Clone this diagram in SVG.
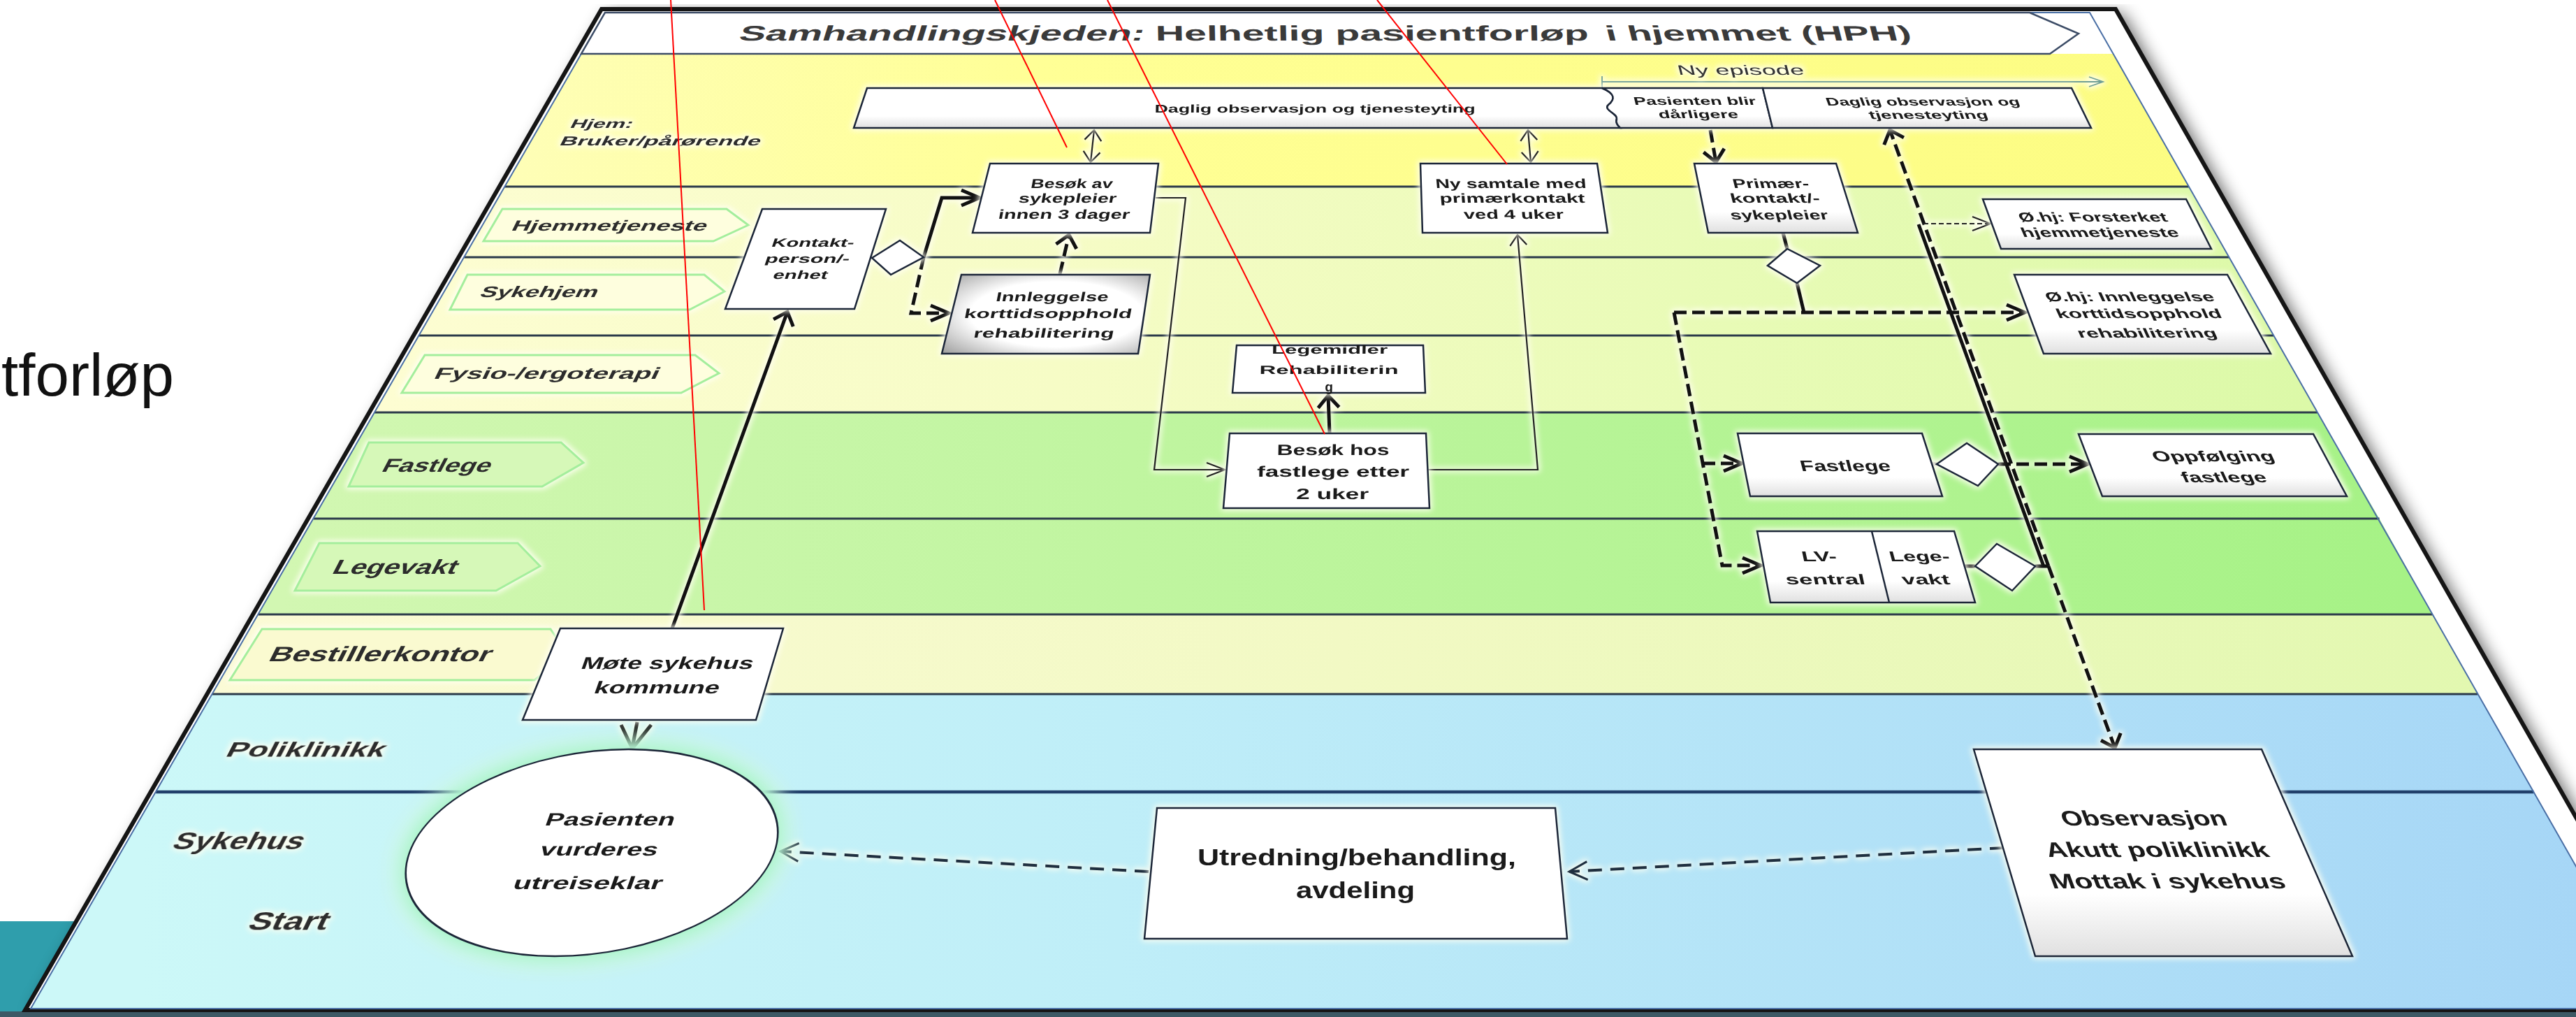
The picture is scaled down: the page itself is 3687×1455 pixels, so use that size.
<svg xmlns="http://www.w3.org/2000/svg" width="3687" height="1455" viewBox="0 0 3687 1455">
<defs>
<style>
.box{fill:#fff;stroke:#1c2638;stroke-width:2.5}
.boxg{fill:url(#gBot);stroke:#1c2638;stroke-width:2.5}
.dia{fill:#fff;stroke:#1c2638;stroke-width:2.5}
.t{font-family:"Liberation Sans",Arial,sans-serif;font-weight:bold;fill:#1a1a1a;text-anchor:middle}
.tt{font-family:"Liberation Sans",Arial,sans-serif;font-weight:bold;fill:#3a3a3a;text-anchor:middle}
.lbl{font-family:"Liberation Sans",Arial,sans-serif;font-weight:bold;fill:#2c2c2c;text-anchor:middle}
.thin{fill:none;stroke:#222;stroke-width:2.2}
.thick{fill:none;stroke:#111;stroke-width:5}
.dash{fill:none;stroke:#111;stroke-width:5;stroke-dasharray:18 8}
.mdash{fill:none;stroke:#1f2f3f;stroke-width:4;stroke-dasharray:20 12}
.tdash{fill:none;stroke:#222;stroke-width:2;stroke-dasharray:7 4}
.sep{stroke:#2b3a4a;stroke-width:3}
.tag{stroke:#a4ee9c;stroke-width:3}
.red{stroke:#ff0000;stroke-width:2;fill:none}
</style>
<linearGradient id="gHjem" gradientUnits="userSpaceOnUse" x1="700" y1="0" x2="3300" y2="0"><stop offset="0" stop-color="#fefeb8"/><stop offset="0.3" stop-color="#ffff96"/><stop offset="1" stop-color="#fcfc80"/></linearGradient>
<linearGradient id="gPale" gradientUnits="userSpaceOnUse" x1="550" y1="0" x2="3300" y2="0"><stop offset="0" stop-color="#fdfdd2"/><stop offset="0.35" stop-color="#f6fcc6"/><stop offset="0.7" stop-color="#e8fbb6"/><stop offset="1" stop-color="#dcf9a8"/></linearGradient>
<linearGradient id="gGreen" gradientUnits="userSpaceOnUse" x1="400" y1="0" x2="3450" y2="0"><stop offset="0" stop-color="#d2f7b2"/><stop offset="0.4" stop-color="#c0f5a0"/><stop offset="1" stop-color="#a6f286"/></linearGradient>
<linearGradient id="gBest" gradientUnits="userSpaceOnUse" x1="300" y1="0" x2="3550" y2="0"><stop offset="0" stop-color="#fbfbd6"/><stop offset="0.5" stop-color="#f2f9c4"/><stop offset="1" stop-color="#e2f8b0"/></linearGradient>
<linearGradient id="gBlue" gradientUnits="userSpaceOnUse" x1="200" y1="0" x2="3700" y2="0"><stop offset="0" stop-color="#ccf8f8"/><stop offset="0.4" stop-color="#bfeef8"/><stop offset="1" stop-color="#a6d6f6"/></linearGradient>
<linearGradient id="gBot" x1="0" y1="0" x2="0" y2="1"><stop offset="0" stop-color="#fff"/><stop offset="0.7" stop-color="#fff"/><stop offset="1" stop-color="#e0e0e0"/></linearGradient>
<radialGradient id="gGrey" cx="0.55" cy="0.5" r="0.75"><stop offset="0" stop-color="#fff"/><stop offset="0.55" stop-color="#fff"/><stop offset="1" stop-color="#9a9a9a"/></radialGradient>
<filter id="glow" filterUnits="userSpaceOnUse" x="0" y="0" width="3687" height="1455" color-interpolation-filters="sRGB">
<feMorphology in="SourceAlpha" operator="dilate" radius="2"/>
<feGaussianBlur stdDeviation="4" result="b"/>
<feFlood flood-color="#fffff2"/>
<feComposite in2="b" operator="in" result="g"/>
<feMerge><feMergeNode in="g"/><feMergeNode in="SourceGraphic"/></feMerge>
</filter>
<filter id="gglow" filterUnits="userSpaceOnUse" x="0" y="0" width="3687" height="1455" color-interpolation-filters="sRGB">
<feMorphology in="SourceAlpha" operator="dilate" radius="6"/>
<feGaussianBlur stdDeviation="16" result="b"/>
<feFlood flood-color="#8eefc0" flood-opacity="1"/>
<feComposite in2="b" operator="in" result="g"/>
<feMerge><feMergeNode in="g"/><feMergeNode in="SourceGraphic"/></feMerge>
</filter>
<filter id="shadow" filterUnits="userSpaceOnUse" x="0" y="0" width="3687" height="1455"><feGaussianBlur stdDeviation="12"/></filter>
<marker id="aThinH" markerUnits="userSpaceOnUse" markerWidth="40" markerHeight="40" refX="0" refY="0" orient="auto" overflow="visible"><path d="M-26,-10 L0,0 L-26,10" fill="none" stroke="#222" stroke-width="2.2" stroke-dasharray="none"/></marker>
<marker id="aThinV" markerUnits="userSpaceOnUse" markerWidth="40" markerHeight="40" refX="0" refY="0" orient="auto-start-reverse" overflow="visible"><path d="M-15,-12 L0,0 L-15,12" fill="none" stroke="#222" stroke-width="2.2" stroke-dasharray="none"/></marker>
<marker id="aThickH" markerUnits="userSpaceOnUse" markerWidth="40" markerHeight="40" refX="0" refY="0" orient="auto" overflow="visible"><path d="M-26,-11 L0,0 L-26,11" fill="none" stroke="#111" stroke-width="5" stroke-dasharray="none"/></marker>
<marker id="aThickV" markerUnits="userSpaceOnUse" markerWidth="40" markerHeight="40" refX="0" refY="0" orient="auto" overflow="visible"><path d="M-17,-15 L0,0 L-17,15" fill="none" stroke="#111" stroke-width="5" stroke-dasharray="none"/></marker>
<marker id="aMed" markerUnits="userSpaceOnUse" markerWidth="40" markerHeight="40" refX="0" refY="0" orient="auto" overflow="visible"><path d="M-26,-13 L0,0 L-26,13" fill="none" stroke="#1f2f3f" stroke-width="3" stroke-dasharray="none"/></marker>
<marker id="aGreen" markerUnits="userSpaceOnUse" markerWidth="40" markerHeight="40" refX="0" refY="0" orient="auto" overflow="visible"><path d="M-20,-7 L0,0 L-20,7" fill="none" stroke="#6f9f95" stroke-width="1.8" stroke-dasharray="none"/></marker>
</defs>

<rect width="3687" height="1455" fill="#fff"/>
<text x="2" y="566" font-family="'Liberation Sans',Arial,sans-serif" font-size="86" fill="#111" textLength="247" lengthAdjust="spacingAndGlyphs">tforløp</text>
<rect x="0" y="1318" width="320" height="137" fill="#2f9eac"/>

<g id="frame">
<polygon points="861,13 3028,13 3844,1445 36,1445" fill="#000" opacity="0.6" filter="url(#shadow)" transform="translate(10,6)"/>
<rect x="0" y="1447" width="3687" height="8" fill="#3d5965"/>
<polygon points="861,13 3028,13 3844,1445 36,1445" fill="#fff" stroke="#151515" stroke-width="6"/>
</g>

<g id="lanes">
<polygon id="lane-hjem" points="832.1,77 3024.5,77 3132.8,267 722.5,267" fill="url(#gHjem)"/>
<polygon id="lane-hjemmetjeneste" points="722.5,267 3132.8,267 3190.4,368 664.3,368" fill="url(#gPale)"/>
<polygon id="lane-sykehjem" points="664.3,368 3190.4,368 3254.2,480 599.7,480" fill="url(#gPale)"/>
<polygon id="lane-fysio" points="599.7,480 3254.2,480 3316.9,590 536.2,590" fill="url(#gPale)"/>
<polygon id="lane-fastlege" points="536.2,590 3316.9,590 3405.5,742 448.6,742" fill="url(#gGreen)"/>
<polygon id="lane-legevakt" points="448.6,742 3405.5,742 3481.6,879 369.6,879" fill="url(#gGreen)"/>
<polygon id="lane-bestillerkontor" points="369.6,879 3481.6,879 3546.6,993 303.8,993" fill="url(#gBest)"/>
<polygon id="lane-poliklinikk" points="303.8,993 3546.6,993 3626.4,1133 223.1,1133" fill="url(#gBlue)"/>
<polygon id="lane-sykehus" points="223.1,1133 3626.4,1133 3803.1,1443 44.3,1443" fill="url(#gBlue)"/>
<line class="sep" x1="722.5" y1="267" x2="3132.8" y2="267"/>
<line class="sep" x1="664.3" y1="368" x2="3190.4" y2="368"/>
<line class="sep" x1="599.7" y1="480" x2="3254.2" y2="480"/>
<line class="sep" x1="536.2" y1="590" x2="3316.9" y2="590"/>
<line class="sep" x1="448.6" y1="742" x2="3405.5" y2="742"/>
<line class="sep" x1="369.6" y1="879" x2="3481.6" y2="879"/>
<line class="sep" x1="303.8" y1="993" x2="3546.6" y2="993"/>
<line x1="223.1" y1="1133" x2="3626.4" y2="1133" stroke="#21406b" stroke-width="4.5"/>
<polygon points="866,18 2991,18 3803,1443 44,1443" fill="none" stroke="#4a6fa5" stroke-width="2"/>
</g>

<g id="title">
<path d="M866,18 L2905,18 L2975,48 L2934,77 L832,77 Z" fill="#fff" stroke="#3c4c66" stroke-width="2.5"/>
<text class="tt" font-size="30" textLength="580" lengthAdjust="spacingAndGlyphs" transform="translate(1346,58) skewX(-17.2)">Samhandlingskjeden:</text>
<text class="tt" font-size="30" textLength="620" lengthAdjust="spacingAndGlyphs" transform="translate(1964,58) skewX(1.3)">Helhetlig pasientforløp</text>
<text class="tt" font-size="30" textLength="437" lengthAdjust="spacingAndGlyphs" transform="translate(2519,58) skewX(14)">i hjemmet (HPH)</text>
</g>

<g id="lane-labels" filter="url(#glow)">
<polygon class="tag" points="719,299 1040,299 1071,322 1021,345 692,345" fill="#fefede"/>
<polygon class="tag" points="669,393 1008,393 1037,417 987,443 644,443" fill="#fefede"/>
<polygon class="tag" points="608,508 995,508 1029,534 975,562 575,562" fill="#fefede"/>
<polygon class="tag" points="528,633 803,633 835,662 776,696 499,696" fill="#d6f8b8"/>
<polygon class="tag" points="457,777 741,777 773,810 710,845 422,845" fill="#d6f8b8"/>
<polygon class="tag" points="375,900 788,900 812,936 765,973 329,973" fill="#fafad0"/>
<text class="lbl" font-size="17.7" textLength="89" lengthAdjust="spacingAndGlyphs" transform="translate(859,183) skewX(-28)">Hjem:</text>
<text class="lbl" font-size="18.5" textLength="287" lengthAdjust="spacingAndGlyphs" transform="translate(943,208) skewX(-27.3)">Bruker/pårørende</text>
<text class="lbl" font-size="21" textLength="279" lengthAdjust="spacingAndGlyphs" transform="translate(870,330) skewX(-26.2)">Hjemmetjeneste</text>
<text class="lbl" font-size="22" textLength="168" lengthAdjust="spacingAndGlyphs" transform="translate(769,425) skewX(-27.3)">Sykehjem</text>
<text class="lbl" font-size="23" textLength="321" lengthAdjust="spacingAndGlyphs" transform="translate(780,542) skewX(-25.8)">Fysio-/ergoterapi</text>
<text class="lbl" font-size="27" textLength="155" lengthAdjust="spacingAndGlyphs" transform="translate(622,675) skewX(-27.6)">Fastlege</text>
<text class="lbl" font-size="29" textLength="177" lengthAdjust="spacingAndGlyphs" transform="translate(562,821) skewX(-27.3)">Legevakt</text>
<text class="lbl" font-size="30" textLength="317" lengthAdjust="spacingAndGlyphs" transform="translate(541,946) skewX(-26.6)">Bestillerkontor</text>
<text class="lbl" font-size="30" textLength="226" lengthAdjust="spacingAndGlyphs" transform="translate(434,1083) skewX(-27.2)">Poliklinikk</text>
<text class="lbl" font-size="35" textLength="186" lengthAdjust="spacingAndGlyphs" transform="translate(337,1215) skewX(-27.6)">Sykehus</text>
<text class="lbl" font-size="36" textLength="113" lengthAdjust="spacingAndGlyphs" transform="translate(409,1330) skewX(-25.7)">Start</text>
</g>

<g id="connectors" filter="url(#glow)">
<path d="M2293,109 L2293,126 M2293,117 L3010,117" fill="none" stroke="#6f9f95" stroke-width="1.8" marker-end="url(#aGreen)"/>
<path class="thin" d="M1566,186 L1561,232" marker-start="url(#aThinV)" marker-end="url(#aThinV)"/>
<path class="thin" d="M2187,186 L2191,232" marker-start="url(#aThinV)" marker-end="url(#aThinV)"/>
<path class="dash" d="M2448,186 L2456,232" marker-end="url(#aThickV)"/>
<path class="thick" d="M1322,368 L1348,283 L1402,283" marker-end="url(#aThickH)"/>
<path class="dash" d="M1322,368 L1304,448 L1358,448" marker-end="url(#aThickH)"/>
<path class="dash" d="M1517,392 L1530,336" marker-end="url(#aThickV)"/>
<path class="thin" d="M1654,283 L1697,283 L1652,672 L1753,672" marker-end="url(#aThinH)"/>
<path class="thin" d="M2044,672 L2201,672 L2172,336" marker-end="url(#aThinV)"/>
<path class="thick" d="M1903,620 L1901,566" stroke-width="4.5" marker-end="url(#aThickV)"/>
<path class="thick" d="M962,899 L1127,446" marker-end="url(#aThickV)"/>
<path class="thick" d="M912,1033 L905,1070 M889,1037 L905,1071 L932,1037" stroke-width="4"/>
<path class="mdash" d="M1644,1247 L1117,1218" marker-end="url(#aMed)"/>
<path class="mdash" d="M2868,1213 L2246,1247" marker-end="url(#aMed)"/>
<path class="thick" d="M2552,333 L2558,356"/>
<path class="thick" d="M2572,405 L2582,447"/>
<path class="dash" d="M2396,447 L2898,447" marker-end="url(#aThickH)"/>
<path class="dash" d="M2396,447 L2465,809 L2520,809" marker-end="url(#aThickH)"/>
<path class="dash" d="M2437,663 L2493,663" marker-end="url(#aThickH)"/>
<path class="thick" d="M2765,664 L2772,664"/>
<path class="dash" d="M2860,664 L2988,664" marker-end="url(#aThickH)"/>
<path class="thick" d="M2812,810 L2827,810"/>
<path class="thick" d="M2913,810 L2932,810"/>
<path class="dash" d="M2932,810 L2705,186" marker-end="url(#aThickV)"/>
<path class="dash" d="M2932,810 L3027,1070" marker-end="url(#aThickV)"/>
<path class="thick" d="M2746,321 L2925,810"/>
<path class="tdash" d="M2753,320 L2849,320" marker-end="url(#aThinH)"/>
</g>

<g id="nodes" filter="url(#glow)">
<g id="ny-episode">
<text font-family="'Liberation Sans',Arial,sans-serif" font-size="19.5" fill="#333" text-anchor="middle" textLength="181" lengthAdjust="spacingAndGlyphs" transform="translate(2493,107) skewX(14.6)">Ny episode</text>
</g>
<g id="daglig-observasjon-1">
<path class="boxg" d="M1241,126 L2293,126 C2312,134 2312,142 2302,150 C2294,157 2316,163 2314,170 C2312,176 2316,180 2319,183 L1222,183 Z"/>
<text class="t" font-size="16" textLength="459" lengthAdjust="spacingAndGlyphs" transform="translate(1882,161) skewX(-1.1)">Daglig observasjon og tjenesteyting</text>
</g>
<g id="pasienten-blir-darligere">
<path class="boxg" d="M2293,126 L2523,126 L2537,183 L2319,183 C2316,180 2312,176 2314,170 C2316,163 2294,157 2302,150 C2312,142 2312,134 2293,126 Z"/>
<text class="t" font-size="16" textLength="175" lengthAdjust="spacingAndGlyphs" transform="translate(2427,150) skewX(14)">Pasienten blir</text>
<text class="t" font-size="16" textLength="114" lengthAdjust="spacingAndGlyphs" transform="translate(2432,169) skewX(14)">dårligere</text>
</g>
<g id="daglig-observasjon-2">
<polygon class="boxg" points="2523,126 2965,126 2993,183 2537,183"/>
<text class="t" font-size="16" textLength="277" lengthAdjust="spacingAndGlyphs" transform="translate(2754,151) skewX(20.3)">Daglig observasjon og</text>
<text class="t" font-size="16" textLength="170" lengthAdjust="spacingAndGlyphs" transform="translate(2762,170) skewX(20.3)">tjenesteyting</text>
</g>
<g id="besok-sykepleier">
<polygon class="box" points="1417,234 1658,234 1646,333 1392,333"/>
<text class="t" font-size="18.5" textLength="117" lengthAdjust="spacingAndGlyphs" transform="translate(1533,268.6) skewX(-10.6)">Besøk av</text>
<text class="t" font-size="18.5" textLength="140" lengthAdjust="spacingAndGlyphs" transform="translate(1527,289.6) skewX(-10.6)">sykepleier</text>
<text class="t" font-size="18.5" textLength="188" lengthAdjust="spacingAndGlyphs" transform="translate(1522,312.6) skewX(-10.6)">innen 3 dager</text>
</g>
<g id="ny-samtale">
<polygon class="box" points="2033,234 2286,234 2301,333 2036,333"/>
<text class="t" font-size="18.5" textLength="216" lengthAdjust="spacingAndGlyphs" transform="translate(2163,268.6) skewX(5)">Ny samtale med</text>
<text class="t" font-size="18.5" textLength="208" lengthAdjust="spacingAndGlyphs" transform="translate(2165,289.6) skewX(5)">primærkontakt</text>
<text class="t" font-size="18.5" textLength="143" lengthAdjust="spacingAndGlyphs" transform="translate(2167,312.6) skewX(5)">ved 4 uker</text>
</g>
<g id="primaerkontakt">
<polygon class="boxg" points="2425,234 2628,234 2659,333 2445,333"/>
<text class="t" font-size="18.5" textLength="109" lengthAdjust="spacingAndGlyphs" transform="translate(2536,268.6) skewX(14.3)">Primær-</text>
<text class="t" font-size="18.5" textLength="128" lengthAdjust="spacingAndGlyphs" transform="translate(2542,289.6) skewX(14.3)">kontakt/-</text>
<text class="t" font-size="18.5" textLength="140" lengthAdjust="spacingAndGlyphs" transform="translate(2548,313.6) skewX(14.3)">sykepleier</text>
</g>
<g id="kontaktperson">
<polygon class="box" points="1091,299 1268,299 1223,442 1038,442"/>
<text class="t" font-size="17" textLength="118" lengthAdjust="spacingAndGlyphs" transform="translate(1162,353) skewX(-19)">Kontakt-</text>
<text class="t" font-size="17" textLength="121" lengthAdjust="spacingAndGlyphs" transform="translate(1154,376) skewX(-19)">person/-</text>
<text class="t" font-size="17" textLength="78" lengthAdjust="spacingAndGlyphs" transform="translate(1144,399) skewX(-19)">enhet</text>
</g>
<g id="beslutning-kontakt">
<polygon class="dia" points="1248,369 1288,344 1322,368 1275,393"/>
</g>
<g id="innleggelse">
<polygon points="1376,393 1646,393 1629,506 1348,506" fill="url(#gGrey)" stroke="#1c2638" stroke-width="2.5"/>
<text class="t" font-size="18.5" textLength="161" lengthAdjust="spacingAndGlyphs" transform="translate(1505,431) skewX(-11.3)">Innleggelse</text>
<text class="t" font-size="18.5" textLength="240" lengthAdjust="spacingAndGlyphs" transform="translate(1499,455) skewX(-11.3)">korttidsopphold</text>
<text class="t" font-size="18.5" textLength="201" lengthAdjust="spacingAndGlyphs" transform="translate(1493,483) skewX(-11.3)">rehabilitering</text>
</g>
<g id="ohj-forsterket">
<polygon class="boxg" points="2838,285 3129,285 3165,356 2864,356"/>
<text class="t" font-size="18.5" textLength="212" lengthAdjust="spacingAndGlyphs" transform="translate(2998,317) skewX(23.7)">Ø.hj: Forsterket</text>
<text class="t" font-size="18.5" textLength="225" lengthAdjust="spacingAndGlyphs" transform="translate(3008,339) skewX(23.7)">hjemmetjeneste</text>
</g>
<g id="beslutning-primaer">
<polygon class="dia" points="2530,380 2558,356 2605,380 2572,405"/>
</g>
<g id="ohj-innleggelse">
<polygon class="boxg" points="2883,393 3188,393 3250,506 2925,506"/>
<text class="t" font-size="18.5" textLength="241" lengthAdjust="spacingAndGlyphs" transform="translate(3051,431) skewX(24.7)">Ø.hj: Innleggelse</text>
<text class="t" font-size="18.5" textLength="236" lengthAdjust="spacingAndGlyphs" transform="translate(3064,455) skewX(24.7)">korttidsopphold</text>
<text class="t" font-size="18.5" textLength="199" lengthAdjust="spacingAndGlyphs" transform="translate(3076,483) skewX(24.7)">rehabilitering</text>
</g>
<g id="legemidler">
<polygon class="box" points="1770,494 2037,494 2040,562 1764,562"/>
<text class="t" font-size="17" textLength="166" lengthAdjust="spacingAndGlyphs" transform="translate(1903,506) skewX(-1)">Legemidler</text>
<text class="t" font-size="17" textLength="199" lengthAdjust="spacingAndGlyphs" transform="translate(1902,535) skewX(-1)">Rehabiliterin</text>
<text class="t" font-size="19" transform="translate(1902,560) skewX(-1)">g</text>
</g>
<g id="besok-fastlege">
<polygon class="box" points="1760,620 2041,620 2046,727 1751,727"/>
<text class="t" font-size="21.5" textLength="161" lengthAdjust="spacingAndGlyphs" transform="translate(1908,651) skewX(-1)">Besøk hos</text>
<text class="t" font-size="21.5" textLength="218" lengthAdjust="spacingAndGlyphs" transform="translate(1908,682) skewX(-1)">fastlege etter</text>
<text class="t" font-size="21.5" textLength="104" lengthAdjust="spacingAndGlyphs" transform="translate(1907,714) skewX(-1)">2 uker</text>
</g>
<g id="fastlege">
<polygon class="boxg" points="2487,620 2751,620 2780,710 2505,710"/>
<text class="t" font-size="22" textLength="129" lengthAdjust="spacingAndGlyphs" transform="translate(2643,674) skewX(14.6)">Fastlege</text>
</g>
<g id="beslutning-fastlege">
<polygon class="dia" points="2772,664 2815,634 2860,664 2831,695"/>
</g>
<g id="oppfolging-fastlege">
<polygon class="boxg" points="2975,621 3311,621 3359,710 3009,710"/>
<text class="t" font-size="21" textLength="174" lengthAdjust="spacingAndGlyphs" transform="translate(3171,659.5) skewX(24.7)">Oppfølging</text>
<text class="t" font-size="21" textLength="121" lengthAdjust="spacingAndGlyphs" transform="translate(3186,689.5) skewX(24.7)">fastlege</text>
</g>
<g id="lv-sentral-legevakt">
<polygon class="boxg" points="2515,760 2797,760 2827,862 2534,862"/>
<line x1="2679" y1="760" x2="2704" y2="862" stroke="#1c2638" stroke-width="2.5"/>
<text class="t" font-size="20.5" textLength="50" lengthAdjust="spacingAndGlyphs" transform="translate(2605,803) skewX(12.1)">LV-</text>
<text class="t" font-size="20.5" textLength="114" lengthAdjust="spacingAndGlyphs" transform="translate(2614,836) skewX(12.1)">sentral</text>
<text class="t" font-size="20.5" textLength="86" lengthAdjust="spacingAndGlyphs" transform="translate(2749,803) skewX(15.1)">Lege-</text>
<text class="t" font-size="20.5" textLength="68" lengthAdjust="spacingAndGlyphs" transform="translate(2758,836) skewX(15.1)">vakt</text>
</g>
<g id="beslutning-legevakt">
<polygon class="dia" points="2827,810 2858,778 2913,810 2880,845"/>
</g>
<g id="mote-sykehus-kommune">
<polygon class="box" points="802,899 1121,899 1082,1030 748,1030"/>
<text class="t" font-size="24.5" textLength="246" lengthAdjust="spacingAndGlyphs" transform="translate(953,957) skewX(-19.5)">Møte sykehus</text>
<text class="t" font-size="24.5" textLength="179" lengthAdjust="spacingAndGlyphs" transform="translate(938,992) skewX(-19.5)">kommune</text>
</g>
<g id="pasienten-vurderes">
<g filter="url(#gglow)"><ellipse cx="0" cy="0" rx="261" ry="148" transform="translate(847,1220) skewX(-19.6)" fill="#fff" stroke="#1c2638" stroke-width="2.5"/></g>
<text class="t" font-size="25.5" textLength="185" lengthAdjust="spacingAndGlyphs" transform="translate(871,1181) skewX(-19.6)">Pasienten</text>
<text class="t" font-size="25.5" textLength="168" lengthAdjust="spacingAndGlyphs" transform="translate(855,1224) skewX(-19.6)">vurderes</text>
<text class="t" font-size="25.5" textLength="213" lengthAdjust="spacingAndGlyphs" transform="translate(839,1272) skewX(-19.6)">utreiseklar</text>
</g>
<g id="utredning-behandling">
<polygon class="box" points="1656,1156 2226,1156 2243,1343 1638,1343"/>
<text class="t" font-size="34" textLength="456" lengthAdjust="spacingAndGlyphs" transform="translate(1942,1238)">Utredning/behandling,</text>
<text class="t" font-size="34" textLength="170" lengthAdjust="spacingAndGlyphs" transform="translate(1940,1285)">avdeling</text>
</g>
<g id="observasjon">
<polygon class="boxg" points="2825,1072 3237,1072 3367,1368 2913,1368"/>
<text class="t" font-size="30" textLength="236" lengthAdjust="spacingAndGlyphs" transform="translate(3072,1181) skewX(20.3)">Observasjon</text>
<text class="t" font-size="30" textLength="318" lengthAdjust="spacingAndGlyphs" transform="translate(3091,1226) skewX(20.3)">Akutt poliklinikk</text>
<text class="t" font-size="30" textLength="336" lengthAdjust="spacingAndGlyphs" transform="translate(3106,1271) skewX(20.3)">Mottak i sykehus</text>
</g>
</g>

<g id="red-lines">
<line class="red" x1="960" y1="0" x2="1008" y2="873"/>
<line class="red" x1="1424" y1="0" x2="1527" y2="211"/>
<line class="red" x1="1585" y1="0" x2="1896" y2="621"/>
<line class="red" x1="1971" y1="0" x2="2157" y2="235"/>
</g>
</svg>
